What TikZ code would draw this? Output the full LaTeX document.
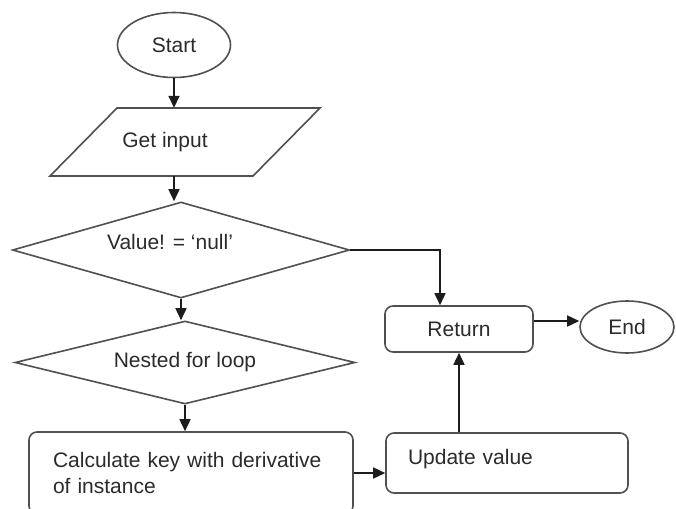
\documentclass[tikz,border=0pt]{standalone}
\usepackage{fontspec}
\setmainfont{Liberation Sans}
\usetikzlibrary{shapes.geometric,arrows.meta}
\definecolor{edgec}{HTML}{505050}
\definecolor{inkc}{HTML}{2B2B2B}
\definecolor{arrowc}{HTML}{1C1C1C}
\begin{document}
\begin{tikzpicture}[x=1pt,y=-1pt,
  base/.style={draw=edgec, line width=1.6pt, fill=white, text=inkc, inner sep=0pt,
    font=\fontsize{21}{26}\selectfont},
  term/.style={base, ellipse},
  decision/.style={base, diamond},
  procbox/.style={base, rectangle, rounded corners=8pt},
  plain/.style={text=inkc, inner sep=0pt, font=\fontsize{21}{26}\selectfont},
  arr/.style={draw=arrowc, line width=1.6pt, -{Triangle[length=12pt,width=11pt]}},
  link/.style={draw=arrowc, line width=1.6pt}
]
\useasboundingbox (0,0) rectangle (676,508);
\fill[white] (0,0) rectangle (676,508);

% Start
\node[term, minimum width=113pt, minimum height=65pt] (start) at (174,45) {Start};

% Get input (parallelogram)
\draw[draw=edgec, line width=1.6pt, fill=white] (117,108) -- (320,108) -- (253,176) -- (50,176) -- cycle;
\node[plain, minimum height=68pt] (input) at (165,142) {Get input};

% Decision 1
\node[decision, aspect=3.5, minimum width=337pt, minimum height=96pt,
      text height=15pt, text depth=17pt] (cond) at (181,250) {Value! = ‘null’\hspace*{22pt}};

% Decision 2
\node[decision, aspect=4, minimum width=340pt, minimum height=83pt] (loop) at (185,362.5) {Nested for loop};

% Calculate box (bottom runs off the picture)
\node[procbox, minimum width=324pt, minimum height=82pt, text width=276pt, align=left]
  (calc) at (191,473) {Calculate key with derivative\\of instance};

% Update value
\node[procbox, minimum width=242pt, minimum height=60pt, text width=198pt, align=left,
      text depth=12pt] (update) at (507,463) {Update value};

% Return
\node[procbox, minimum width=148pt, minimum height=46pt] (ret) at (459,329) {Return};

% End
\node[term, minimum width=94pt, minimum height=52pt] (end) at (627,327) {End};

% Connectors
\draw[arr] (start.south) -- (start.south |- input.north);
\draw[arr] (start.south |- input.south) -- (start.south |- cond.north);
\draw[arr] (cond.south) -- (cond.south |- loop.north);
\draw[arr] (loop.south) -- (loop.south |- calc.north);
\draw[arr] (calc.east) -- (calc.east -| update.west);
\draw[arr] (ret.south |- update.north) -- (ret.south);
\coordinate (turn) at ([xshift=-19pt]ret.north);
\draw[arr] (cond.east) -| (turn);
\path ([yshift=8pt]ret.east) coordinate (r1);
\draw[arr] (r1) -- (r1 -| end.west);
\end{tikzpicture}
\end{document}
